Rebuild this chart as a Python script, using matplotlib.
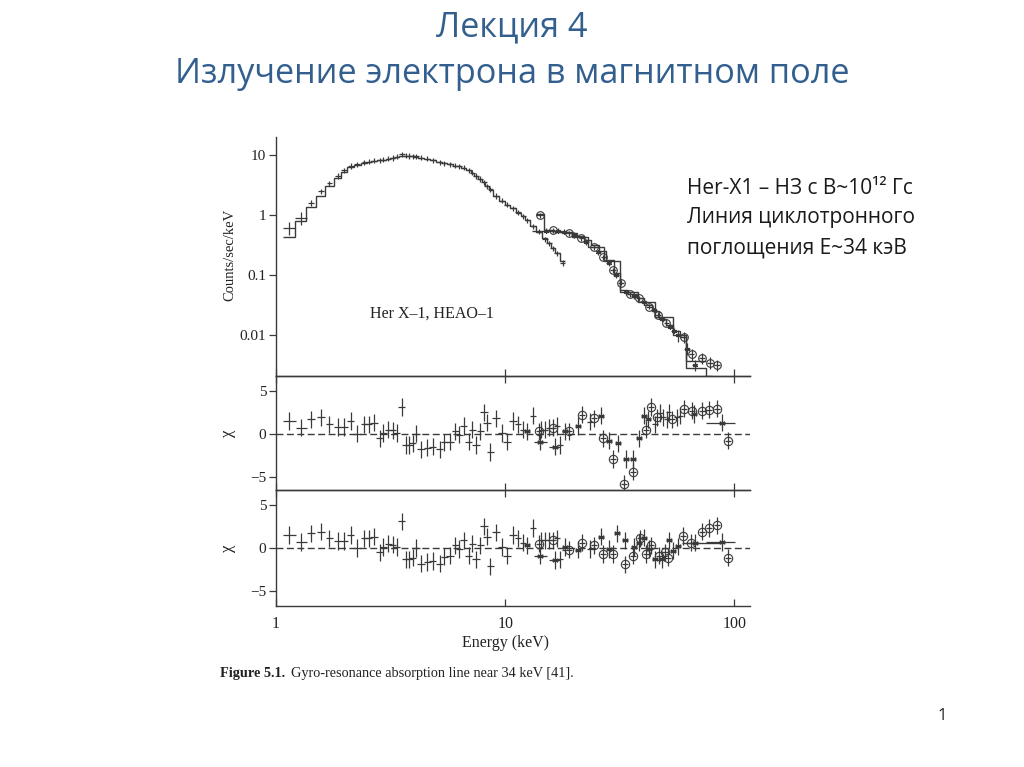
import numpy as np
import matplotlib
matplotlib.use("Agg")
import matplotlib.pyplot as plt
from matplotlib.ticker import NullLocator, FixedLocator, FixedFormatter

# ---- spectrum: low-energy detector (counts/sec/keV) ----
e_lo = [1.14, 1.29, 1.42, 1.57, 1.71, 1.86, 1.98, 2.12, 2.26, 2.43, 2.54, 2.68, 2.83, 2.94,
        3.09, 3.23, 3.36, 3.54, 3.68, 3.82, 3.95, 4.08, 4.29, 4.58, 4.83, 5.17, 5.42, 5.75,
        6.05, 6.31, 6.58, 6.94, 7.2, 7.47, 7.78, 8.07, 8.34, 8.62, 9.13, 9.67, 10.2, 10.8,
        11.4, 12.0, 12.5, 13.2, 14.0, 14.9, 15.5, 16.1, 16.8, 17.8]
c_lo = [0.62, 0.90, 1.6, 2.5, 3.4, 4.5, 5.6, 6.6, 7.0, 7.6, 7.8, 8.1, 8.2, 8.4,
        8.7, 9.0, 9.4, 10.3, 9.8, 9.7, 9.6, 9.5, 9.1, 8.7, 8.2, 7.6, 7.3, 7.0,
        6.7, 6.5, 6.2, 5.6, 5.1, 4.5, 4.0, 3.5, 3.0, 2.7, 2.1, 1.75, 1.5, 1.3,
        1.12, 0.95, 0.83, 0.66, 0.53, 0.40, 0.34, 0.28, 0.23, 0.16]
m_lo = [0.43, 0.80, 1.35, 2.1, 3.0, 4.1, 5.2, 6.3, 6.9, 7.4, 7.7, 8.0, 8.2, 8.4,
        8.7, 9.0, 9.3, 9.6, 9.7, 9.6, 9.5, 9.4, 9.1, 8.7, 8.2, 7.6, 7.3, 7.0,
        6.7, 6.5, 6.1, 5.6, 5.1, 4.5, 4.0, 3.5, 3.0, 2.6, 2.1, 1.75, 1.5, 1.3,
        1.1, 0.95, 0.82, 0.66, 0.53, 0.41, 0.34, 0.28, 0.23, 0.17]

# ---- spectrum: high-energy detectors ('o' circles, '*' asterisks) ----
e_hi = [14.2, 15.0, 16.1, 17.0, 18.0, 19.0, 20.0, 21.5, 22.5, 24.3, 25.5, 26.8, 28.3, 29.5,
        30.5, 32.0, 33.5, 35.0, 36.5, 38.5, 40.5, 42.5, 44.5, 46.5, 48.5, 50.5, 52.5, 54.5,
        57.0, 60.2, 62.0, 65.1, 67.0, 72.3, 78.4, 84.1]
c_hi = [1.0, 0.55, 0.56, 0.55, 0.53, 0.50, 0.47, 0.41, 0.36, 0.29, 0.24, 0.20, 0.16, 0.12,
        0.10, 0.075, 0.052, 0.048, 0.045, 0.041, 0.036, 0.030, 0.026, 0.022, 0.019, 0.016,
        0.014, 0.012, 0.010, 0.0094, 0.0060, 0.0048, 0.0032, 0.0042, 0.0035, 0.0032]
det_hi = ['o', '*', 'o', '*', '*', 'o', '*', 'o', '*', 'o', '*', 'o', '*', 'o',
          '*', 'o', '*', 'o', '*', 'o', '*', 'o', '*', 'o', '*', 'o', '*', '*',
          '*', 'o', '*', 'o', '*', 'o', 'o', 'o']

# model steps for the high-energy part
hi_edges = [13.6, 14.8, 16.0, 17.5, 19.0, 20.5, 22.0, 23.8, 25.6, 27.6, 29.8, 31.8, 34.5,
            37.5, 40.5, 43.5, 47.0, 50.5, 54.0, 58.0, 61.5, 68.0, 75.0]
hi_model = [1.05, 0.56, 0.55, 0.53, 0.50, 0.45, 0.39, 0.32, 0.25, 0.18, 0.11, 0.056, 0.049,
            0.041, 0.032, 0.025, 0.019, 0.015, 0.012, 0.0095, 0.0037, 0.0037]
hi2_edges = [13.1, 16.5, 19.5, 23.0, 27.0, 31.8, 38.0, 45.0, 54.0, 61.5, 75.0, 80.0]
hi2_model = [0.55, 0.52, 0.43, 0.30, 0.17, 0.052, 0.036, 0.020, 0.010, 0.0028, 0.0021]

# ---- residuals below 11 keV (same in both fits) ----
res_lo_e = [1.14, 1.29, 1.42, 1.57, 1.71, 1.86, 1.98, 2.12, 2.26, 2.43, 2.54, 2.68, 2.83, 2.94,
            3.09, 3.23, 3.36, 3.54, 3.68, 3.82, 3.95, 4.08, 4.29, 4.58, 4.83, 5.17, 5.42, 5.75,
            6.05, 6.31, 6.58, 6.94, 7.2, 7.47, 7.78, 8.07, 8.34, 8.62, 9.13, 9.67, 10.2, 10.8]
res_lo_chi = [1.5, 0.7, 1.7, 1.9, 1.1, 0.8, 0.8, 1.5, 0.0, 1.1, 1.1, 1.3, -0.5, 0.1,
              0.5, 0.4, 0.1, 3.1, -1.3, -1.3, -1.1, 0.0, -1.8, -1.6, -1.5, -1.8, -1.0, -0.9,
              0.3, -0.1, 0.9, -0.9, 0.5, -1.3, 0.3, 2.5, 1.3, -2.1, 1.8, 0.1, -0.9, 1.5]

# ---- residuals above 11 keV: fit without the line ----
mid_e = [11.4, 12.0, 12.5, 13.2, 14.0, 14.2, 14.4, 14.9, 15.5, 16.1, 16.5, 16.8, 17.4, 18.3,
         18.9, 20.7, 21.6, 23.5, 24.3, 26.1, 26.8, 28.3, 29.5, 31.1, 32.9, 33.6, 36.1, 36.1,
         38.5, 40.4, 41.1, 42.2, 43.4, 45.2, 45.9, 47.4, 49.0, 50.8, 51.6, 53.4, 56.3, 58.2,
         60.2, 65.1, 66.9, 72.3, 77.6, 84.1, 88.3, 93.8]
mid_chi = [1.1, 0.5, 0.3, 2.1, 0.3, -0.9, 0.5, 0.5, 0.7, 0.7, -1.5, 0.9, -1.3, 0.3,
           0.3, 0.9, 2.2, 1.4, 1.8, 2.1, -0.5, -0.8, -2.9, -1.1, -5.8, -2.9, -2.9, -4.4,
           -0.5, 2.1, 0.5, 1.7, 3.1, 1.1, 1.9, 2.4, 1.9, 1.7, 2.5, 1.7, 1.9, 2.1,
           2.9, 2.7, 2.3, 2.7, 2.8, 2.9, 1.3, -0.8]
mid_det = ['+', '+', '*', '+', 'o', '*', '+', '+', '+', 'o', '*', '+', '+', '*',
           'o', '*', 'o', '+', 'o', '*', 'o', '*', 'o', '*', 'o', '*', '*', 'o',
           '*', '*', 'o', '*', 'o', '+', 'o', '+', '+', '+', '+', 'o', '+', '+',
           'o', 'o', '*', 'o', 'o', 'o', '*', 'o']
mid_wide = [(14.2, 13.3, 15.2), (16.5, 15.5, 17.4), (18.9, 17.7, 19.5), (88.3, 75.5, 101.0)]

# ---- residuals above 11 keV: fit with the 34 keV line ----
bot_e = [11.4, 12.0, 12.5, 13.2, 14.0, 14.2, 14.4, 14.9, 15.5, 16.1, 16.5, 16.8, 17.4, 18.3,
         18.9, 20.7, 21.6, 23.5, 24.3, 26.1, 26.8, 28.3, 29.5, 30.8, 33.3, 33.4, 36.1, 36.4,
         38.3, 38.8, 40.3, 41.1, 42.6, 43.4, 45.2, 46.7, 48.2, 49.7, 51.2, 51.8, 54.1, 56.6,
         59.8, 65.0, 67.3, 72.3, 77.6, 84.1, 88.3, 93.8]
bot_chi = [1.1, 0.6, 0.3, 2.3, 0.5, -0.9, 0.9, 0.9, 0.9, 0.9, -1.4, 1.1, -1.3, 0.1,
           -0.2, -0.2, 0.6, -0.1, 0.3, 1.3, -0.7, -0.1, -0.7, 1.7, -1.9, 0.9, -0.9, 0.1,
           0.6, 1.1, 1.2, -0.7, -0.1, 0.3, -1.3, -0.9, -1.3, -0.5, -1.1, 0.9, -0.3, 0.2,
           1.4, 0.6, 0.6, 1.9, 2.3, 2.6, 0.7, -1.1]
bot_det = ['+', '+', '*', '+', 'o', '*', '+', '+', '+', 'o', '*', '+', '+', '*',
           'o', '*', 'o', '+', 'o', '*', 'o', '*', 'o', '*', 'o', '*', 'o', '*',
           '*', 'o', '*', 'o', '*', 'o', '*', 'o', '*', 'o', 'o', '*', '*', '*',
           'o', 'o', '*', 'o', 'o', 'o', '*', 'o']
bot_wide = [(14.2, 13.3, 15.2), (16.5, 15.5, 17.4), (18.9, 17.7, 19.5), (65.0, 60.0, 70.0),
            (88.3, 75.5, 101.0)]
bot_model_step = (59.0, 88.0, 0.6)

ink = '#3a3a3a'
serif = ['Liberation Serif', 'DejaVu Serif']
sans = ['Open Sans', 'DejaVu Sans']


def log_edges(e):
    e = np.asarray(e, dtype=float)
    mid = np.sqrt(e[:-1] * e[1:])
    return np.concatenate([[e[0] ** 2 / mid[0]], mid, [e[-1] ** 2 / mid[-1]]])


def half_widths(e, h, wide=()):
    e = np.asarray(e, dtype=float)
    lo = e - e / 10 ** h
    hi = e * 10 ** h - e
    for ew, a, b in wide:
        k = np.where(np.isclose(e, ew))[0]
        if len(k):
            lo[k[0]] = ew - a
            hi[k[0]] = b - ew
    return [lo, hi]


def draw_points(ax, e, y, dets, xerr, yerr, ms_o=6.0, ms_s=4.5):
    e = np.asarray(e, dtype=float)
    y = np.asarray(y, dtype=float)
    ax.errorbar(e, y, xerr=xerr, yerr=yerr, fmt='none', ecolor=ink, elinewidth=0.9,
                capsize=0, zorder=3)
    d = np.asarray(dets)
    ax.plot(e[d == 'o'], y[d == 'o'], 'o', mfc='none', mec=ink, ms=ms_o, mew=0.8, zorder=4)
    ax.plot(e[d == '*'], y[d == '*'], ls='none', marker=(6, 2, 0), color=ink, ms=ms_s,
            mew=0.8, zorder=4)


fig = plt.figure(figsize=(10.24, 7.67), dpi=100)
W, H = 1024.0, 767.0
x0, x1 = 276 / W, 750 / W


def axes_px(top, bottom):
    return fig.add_axes([x0, 1 - bottom / H, x1 - x0, (bottom - top) / H])


ax_s = axes_px(137, 376)
ax_a = axes_px(376, 490)
ax_b = axes_px(490, 606)

for ax in (ax_s, ax_a, ax_b):
    ax.set_xscale('log')
    ax.set_xlim(1, 117)
    ax.set_facecolor('none')
    ax.spines['right'].set_visible(False)
    for s in ax.spines.values():
        s.set_color(ink)
        s.set_linewidth(1.0)
    ax.xaxis.set_major_locator(FixedLocator([1, 10, 100]))
    ax.xaxis.set_minor_locator(NullLocator())
    ax.tick_params(axis='x', which='major', direction='in', length=5, width=0.9,
                   color=ink, top=True, labelbottom=False)
    ax.tick_params(axis='y', which='major', direction='out', length=5, width=0.9,
                   color=ink, pad=2, labelsize=11, labelcolor='#222222')
ax_s.spines['top'].set_visible(False)
ax_s.tick_params(axis='x', top=False)

# ---- spectrum ----
ax_s.set_yscale('log')
ax_s.set_ylim(0.0021, 20)
ax_s.yaxis.set_major_locator(FixedLocator([0.01, 0.1, 1, 10]))
ax_s.yaxis.set_major_formatter(FixedFormatter(['0.01', '0.1', '1', '10']))
ax_s.yaxis.set_minor_locator(NullLocator())

ax_s.stairs(m_lo, log_edges(e_lo), baseline=None, color=ink, lw=1.0)
ax_s.stairs(hi_model, hi_edges, baseline=None, color=ink, lw=1.0)
ax_s.stairs(hi2_model, hi2_edges, baseline=None, color=ink, lw=1.0)

c_lo_a = np.asarray(c_lo)
yerr_lo = c_lo_a * 0.1
yerr_lo[:2] = c_lo_a[:2] * 0.25
draw_points(ax_s, e_lo, c_lo, ['+'] * len(e_lo),
            half_widths(e_lo, 0.012, [(1.14, 1.07, 1.21), (1.29, 1.21, 1.36)]),
            yerr_lo, ms_s=3)
c_hi_a = np.asarray(c_hi)
yerr_hi = c_hi_a * np.where(np.asarray(e_hi) > 55, 0.22, 0.1)
draw_points(ax_s, e_hi, c_hi, det_hi, half_widths(e_hi, 0.012, [(14.2, 13.6, 14.8)]),
            yerr_hi, ms_o=5.5, ms_s=3.5)

ax_s.text(4.8, 0.0233, 'Her X\u20131, HEAO\u20131', family=serif, fontsize=11.5,
          color='#222222', ha='center', va='center')

# ---- residual panels ----
res_axes = [(ax_a, mid_e, mid_chi, mid_det, mid_wide, (-6.5, 6.7)),
            (ax_b, bot_e, bot_chi, bot_det, bot_wide, (-6.7, 6.7))]
for ax, e_h, chi_h, det_h, wide, lim in res_axes:
    ax.set_ylim(*lim)
    ax.yaxis.set_major_locator(FixedLocator([-5, 0, 5]))
    ax.yaxis.set_major_formatter(FixedFormatter(['\u22125', '0', '5']))
    ax.axhline(0, color=ink, lw=1.0, dashes=(5, 2.5), zorder=2)
    draw_points(ax, res_lo_e, res_lo_chi, ['+'] * len(res_lo_e),
                half_widths(res_lo_e, 0.016, [(1.14, 1.07, 1.22), (1.29, 1.22, 1.36)]),
                1.0)
    draw_points(ax, e_h, chi_h, det_h, half_widths(e_h, 0.013, wide), 1.0)

ax_b.hlines(bot_model_step[2], bot_model_step[0], bot_model_step[1], color=ink, lw=1.0)

ax_b.tick_params(axis='x', labelbottom=True, labelsize=11.5, pad=7, labelcolor='#222222')
ax_b.xaxis.set_major_formatter(FixedFormatter(['1', '10', '100']))
for lab in ax_b.get_xticklabels() + ax_a.get_yticklabels() + ax_b.get_yticklabels() \
        + ax_s.get_yticklabels():
    lab.set_family(serif)

# axis labels
fig.text(230 / W, 1 - 255 / H, 'Counts/sec/keV', rotation=90, family=serif, fontsize=10.5,
         color='#222222', ha='center', va='center')
for yc in (433, 548):
    fig.text(228 / W, 1 - yc / H, '\u03c7', rotation=90, family=serif, fontsize=12,
             color='#222222', ha='center', va='center')
fig.text(505 / W, 1 - 643 / H, 'Energy (keV)', family=serif, fontsize=11.5,
         color='#222222', ha='center', va='center')

# caption
cap1 = fig.text(220 / W, 1 - 673 / H, 'Figure 5.1.', family=serif, fontsize=10.3,
                weight='bold', color='#222222', ha='left', va='center')
fig.canvas.draw()
bb = cap1.get_window_extent(fig.canvas.get_renderer())
fig.text(bb.x1 / W + 6 / W, 1 - 673 / H, 'Gyro-resonance absorption line near 34 keV [41].',
         family=serif, fontsize=10.3, color='#222222', ha='left', va='center')

# slide title
title_col = '#335f8f'
fig.text(0.5, 1 - 27 / H, 'Лекция 4', family=sans, fontsize=24.7, color=title_col,
         ha='center', va='center')
fig.text(0.5, 1 - 74 / H, 'Излучение электрона в магнитном поле', family=sans, fontsize=24.7,
         color=title_col, ha='center', va='center')

# side note
note = ['Her-X1 \u2013 НЗ с B~10\u00b9\u00b2 Гс', 'Линия циклотронного', 'поглощения E~34 кэВ']
for i, line in enumerate(note):
    fig.text(687 / W, 1 - (188 + 30 * i) / H, line, family=sans, fontsize=15,
             color='#1a1a1a', ha='left', va='center')

fig.text(942 / W, 1 - 716 / H, '1', family=sans, fontsize=12, color='#222222',
         ha='center', va='center')

fig.savefig('out.png', dpi=100)
